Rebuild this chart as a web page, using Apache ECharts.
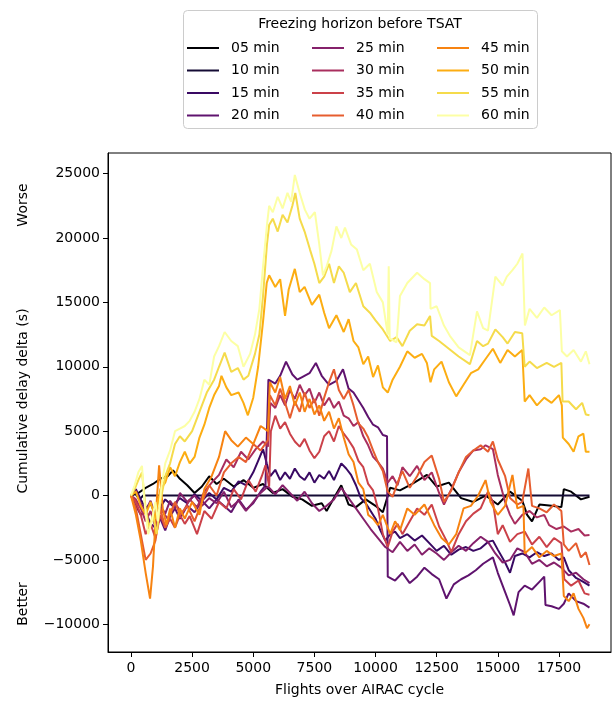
<!DOCTYPE html>
<html><head><meta charset="utf-8">
<script src="https://cdn.jsdelivr.net/npm/echarts@6/dist/echarts.min.js"></script>
<style>html,body{margin:0;padding:0;background:#fff}#c{width:612px;height:702px}</style>
</head><body><div id="c"></div>
<script>
const seriesNames = ['05 min','10 min','15 min','20 min','25 min','30 min','35 min','40 min','45 min','50 min','55 min','60 min'];
const xTicks = [0,2500,5000,7500,10000,12500,15000,17500];
const yTicks = [-10000,-5000,0,5000,10000,15000,20000,25000];

const min05 = [[0,0],[300,200],[600,600],[900,900],[1200,1300],[1500,1500],[1720,1950],[2000,1300],[2300,800],[2600,200],[2900,700],[3200,1500],[3500,900],[3800,1300],[4200,700],[4600,1200],[5000,600],[5400,900],[5800,200],[6200,500],[6600,-100],[7000,-300],[7400,-800],[7800,-600],[8000,-1200],[8300,-200],[8600,800],[8900,-700],[9200,-900],[9600,-300],[10000,-800],[10300,-1300],[10600,600],[11000,400],[11500,900],[12100,1600],[12500,700],[13000,1000],[13500,-200],[14000,-500],[14500,0],[15000,-700],[15500,300],[16000,-400],[16200,-1500],[16400,-2000],[16700,-700],[17200,-800],[17600,-900],[17700,500],[18000,300],[18400,-300],[18750,-100]];
const min10 = [[0,0],[150,200],[350,-300],[500,0],[18750,0]];
const min15 = [[0,0],[200,500],[400,-300],[600,-1000],[800,-600],[1000,-1500],[1200,-900],[1400,-300],[1700,-800],[2000,-200],[2300,-600],[2600,100],[2900,-400],[3200,200],[3500,-300],[3800,600],[4100,300],[4400,1100],[4700,800],[5000,1800],[5200,2700],[5400,3600],[5550,2500],[5700,1500],[5900,2000],[6100,1200],[6300,1800],[6500,1300],[6700,2100],[6900,1500],[7100,1200],[7300,1800],[7500,1000],[7700,1600],[7900,1300],[8100,1900],[8300,1200],[8600,2500],[8800,2100],[9000,1600],[9200,800],[9400,-200],[9600,-600],[9800,-1200],[10000,-1800],[10200,-2700],[10400,-3500],[10600,-3000],[10800,-2800],[11000,-3300],[11300,-3000],[11600,-3500],[11900,-3100],[12200,-3700],[12500,-4300],[12800,-3900],[13100,-4600],[13400,-4200],[13700,-4000],[14000,-4300],[14300,-4100],[14600,-3600],[14800,-3500],[15000,-4200],[15300,-5200],[15500,-6000],[15700,-4700],[16000,-4500],[16300,-4800],[16600,-4400],[16900,-4700],[17200,-4500],[17500,-5000],[17700,-4800],[17900,-5800],[18200,-6400],[18500,-6700],[18750,-7000]];
const min20 = [[0,0],[200,-800],[400,-1500],[600,-1200],[800,-2200],[1000,-2500],[1200,-1800],[1400,-2700],[1600,-1600],[1800,-1000],[2000,-1800],[2300,-800],[2600,-1300],[2900,-400],[3200,-1000],[3500,-300],[3800,-800],[4100,-1300],[4400,-300],[4700,-1100],[5000,-600],[5300,300],[5500,800],[5620,9000],[5900,8700],[6100,9300],[6340,10400],[6600,9400],[6800,9000],[7000,9200],[7300,9500],[7560,10300],[7800,9300],[8100,8600],[8400,8900],[8670,9800],[8900,8300],[9100,8000],[9300,7400],[9500,6800],[9700,6100],[9900,5500],[10100,5300],[10300,4700],[10470,4600],[10500,-6300],[10800,-6600],[11100,-6000],[11400,-6800],[11700,-6300],[12000,-5600],[12300,-6100],[12600,-6500],[12900,-8000],[13200,-6900],[13500,-6500],[13800,-6200],[14100,-5800],[14400,-5300],[14800,-4800],[15000,-6000],[15300,-7500],[15500,-8500],[15650,-9300],[15850,-7500],[16100,-7000],[16400,-7300],[16700,-6700],[16900,-6300],[16950,-8500],[17200,-8600],[17500,-8800],[17700,-8400],[17900,-7600],[18200,-8200],[18500,-8400],[18750,-8700]];
const min25 = [[0,0],[200,400],[400,-600],[600,-1200],[800,-400],[1000,-1600],[1200,-800],[1400,-1400],[1600,-400],[1800,-1000],[2000,200],[2300,-500],[2600,0],[2900,-800],[3200,-200],[3500,-600],[3800,300],[4100,-900],[4400,-400],[4700,-1200],[5000,-500],[5300,200],[5600,700],[5900,100],[6200,800],[6500,200],[6800,-400],[7100,300],[7400,-600],[7700,-1200],[8000,-800],[8300,-300],[8600,600],[8900,-200],[9200,-1000],[9500,-1800],[9800,-2600],[10100,-3300],[10400,-4000],[10700,-4400],[11000,-3600],[11300,-4300],[11600,-3800],[11900,-4600],[12200,-4100],[12500,-4500],[12800,-5000],[13100,-4400],[13400,-3900],[13700,-4300],[14000,-3700],[14300,-3200],[14600,-3600],[14900,-4500],[15200,-5200],[15500,-5000],[15800,-4100],[16100,-4400],[16400,-5300],[16700,-5000],[17000,-5500],[17300,-5200],[17600,-5600],[17900,-6200],[18200,-6000],[18500,-6500],[18750,-6800]];
const min30 = [[0,0],[200,-300],[400,-1000],[600,-2000],[800,-1200],[1000,-2500],[1200,-1000],[1500,-1800],[1800,-600],[2100,-1400],[2400,-300],[2700,-900],[3000,300],[3300,1000],[3600,1600],[3900,2800],[4200,2200],[4500,3400],[4800,2800],[5100,3600],[5400,4200],[5600,3800],[5700,7200],[5900,6800],[6100,7800],[6300,7000],[6500,8200],[6700,7500],[6900,8600],[7100,7800],[7300,8300],[7500,7200],[7700,8000],[7900,7000],[8100,7600],[8300,6800],[8500,7300],[8700,6200],[8900,6000],[9100,5400],[9300,5700],[9500,4600],[9700,3900],[9900,3000],[10100,2600],[10300,2100],[10500,1000],[10700,1500],[10900,800],[11100,2200],[11400,1500],[11700,2300],[12000,1200],[12300,1800],[12600,200],[12800,-700],[13100,500],[13400,1800],[13700,2800],[14000,3500],[14300,3600],[14500,3900],[14800,3600],[15000,1600],[15300,-500],[15500,-1500],[15700,-2200],[16000,-1500],[16300,-1200],[16600,-1700],[16900,-1500],[17100,-2300],[17400,-2600],[17700,-2400],[18000,-2800],[18300,-2600],[18550,-3100],[18750,-3070]];
const min35 = [[0,0],[200,-500],[400,-1500],[600,-3000],[800,-2200],[1000,-3300],[1200,-1500],[1400,-2500],[1600,-1800],[1800,-2500],[2000,-1500],[2200,-2200],[2400,-1600],[2700,-3000],[3000,-1200],[3300,-1800],[3600,-500],[3900,-1000],[4200,500],[4500,-300],[4800,1200],[5100,300],[5350,1500],[5500,2350],[5650,700],[5720,5000],[5900,6200],[6100,5200],[6300,5700],[6500,4800],[6700,4200],[6900,3800],[7100,4400],[7300,3500],[7500,2900],[7700,3400],[7900,4600],[8100,5000],[8300,4200],[8500,5400],[8700,4800],[8900,4300],[9100,3700],[9300,2700],[9500,2200],[9700,900],[9900,400],[10100,-1000],[10300,-3000],[10500,-4000],[10700,-2800],[10900,-2200],[11100,-3000],[11400,-2000],[11700,-1000],[12000,-1500],[12300,-700],[12600,-2400],[12900,-3500],[13100,-4400],[13400,-3000],[13700,-2000],[14000,-1400],[14300,-1000],[14600,300],[14800,-500],[15000,-3000],[15200,-2300],[15500,-3600],[15800,-3000],[16100,-2800],[16400,-3800],[16700,-3200],[17000,-4000],[17300,-3300],[17600,-3700],[17720,-6500],[18000,-7000],[18300,-6600],[18550,-7600],[18750,-7700]];
const min40 = [[0,0],[200,-1000],[400,-3000],[600,-5000],[800,-4500],[1000,-3500],[1200,-1000],[1400,-2500],[1600,-1500],[1800,-500],[2000,-1500],[2300,-800],[2600,-2000],[2900,-500],[3200,800],[3500,0],[3800,1800],[4100,2500],[4400,3000],[4700,2600],[5000,4000],[5300,3500],[5600,4300],[5680,7800],[5900,7000],[6100,8300],[6300,7200],[6500,6000],[6700,7300],[6900,6500],[7100,8000],[7300,6800],[7500,7500],[7700,6200],[7900,7600],[8100,8800],[8300,9800],[8500,8200],[8700,7500],[8900,8200],[9100,7000],[9300,5600],[9500,5200],[9700,4500],[9900,3500],[10100,2600],[10300,1900],[10500,300],[10700,-100],[10900,1000],[11100,1900],[11400,600],[11700,1500],[12000,2600],[12300,3100],[12600,1300],[12800,-500],[13100,400],[13400,1800],[13700,3000],[14000,3500],[14300,3900],[14600,3400],[14800,4200],[15000,2800],[15300,1500],[15500,-200],[15800,-700],[16000,-500],[16250,2100],[16400,-800],[16700,-1000],[17000,-1300],[17300,-700],[17600,-1200],[17700,-3800],[17900,-4300],[18200,-3700],[18400,-4800],[18600,-4400],[18750,-5400]];
const min45 = [[0,0],[200,-1500],[400,-3500],[600,-6000],[780,-8000],[900,-5500],[1000,-2000],[1150,2350],[1300,-1000],[1450,-2300],[1600,-1000],[1800,-2500],[2000,-1000],[2200,-1800],[2500,-500],[2800,-1500],[3000,500],[3300,1500],[3600,3000],[3850,5000],[4100,4300],[4370,3800],[4700,4500],[5000,4000],[5300,5400],[5600,5000],[5680,8800],[5900,8000],[6100,9200],[6300,7500],[6500,8500],[6700,7000],[6900,8000],[7100,6500],[7300,7500],[7500,6300],[7700,7000],[7900,5800],[8100,6500],[8300,5200],[8500,6000],[8700,4500],[8900,3200],[9100,2600],[9300,1000],[9500,500],[9700,-1500],[9900,-1800],[10100,-2300],[10300,-1500],[10600,-3000],[10800,-2000],[11000,-2700],[11300,-1000],[11600,-1500],[12000,-700],[12400,-2300],[12700,-3300],[13000,-3800],[13300,-3000],[13600,-1000],[13900,-800],[14200,0],[14500,1200],[14700,-500],[15000,-1500],[15300,-800],[15600,1600],[15800,-1000],[16050,-800],[16100,-4500],[16400,-4000],[16700,-4800],[17000,-4300],[17300,-4700],[17600,-4500],[17700,-7800],[17900,-8200],[18100,-7600],[18300,-8800],[18500,-9500],[18650,-10300],[18750,-10000]];
const min50 = [[0,0],[200,300],[400,-800],[600,-1500],[800,-500],[1000,-1800],[1200,500],[1400,1000],[1600,2200],[1800,1500],[2000,2600],[2200,3400],[2400,2500],[2600,3000],[2800,4500],[3000,5500],[3200,6800],[3400,7800],[3600,8500],[3700,9300],[3900,8400],[4100,7800],[4400,8000],[4600,7200],[4780,6230],[5000,7600],[5200,10000],[5400,13500],[5550,16500],[5650,17100],[5900,16200],[6100,16800],[6300,13950],[6450,16000],[6700,17600],[6900,15800],[7100,16200],[7400,14800],[7700,15600],[7900,14200],[8100,13000],[8400,14000],[8700,12700],[8900,13700],[9100,12000],[9300,11500],[9500,10200],[9700,10800],[9900,9200],[10100,10100],[10300,8400],[10500,8000],[10700,9000],[11000,10000],[11300,11200],[11600,10700],[11900,11000],[12100,10300],[12250,8800],[12400,9800],[12700,10400],[13000,8800],[13300,7700],[13600,8600],[13900,9500],[14200,9800],[14500,10600],[14800,11400],[15100,10300],[15400,11300],[15700,10800],[16000,11300],[16100,7300],[16300,7800],[16600,7000],[16900,7600],[17200,7200],[17500,7800],[17620,7000],[17660,4500],[17900,4000],[18100,3400],[18300,4600],[18500,4800],[18600,3400],[18750,3400]];
const min55 = [[0,0],[150,500],[300,1200],[450,1800],[600,-1000],[750,-2500],[900,-1500],[1050,-3000],[1200,-500],[1400,1500],[1600,2500],[1800,4000],[2000,4600],[2200,4200],[2500,5000],[2800,6500],[3100,8000],[3400,9000],[3600,10000],[3830,11100],[4100,9600],[4370,9900],[4600,9000],[4800,9300],[5070,11000],[5250,12500],[5400,15500],[5560,19500],[5650,21000],[5800,21500],[6000,20500],[6200,21800],[6400,21200],[6600,22500],[6720,23500],[6900,21500],[7100,20500],[7320,19100],[7500,18000],[7700,16500],[7900,17000],[8100,18000],[8300,16500],[8500,17800],[8700,17300],[8950,15800],[9200,16500],[9500,14700],[9770,14200],[10000,13600],[10300,12900],[10600,12000],[10860,12300],[11100,11600],[11400,12800],[11700,13300],[12000,13200],[12230,13950],[12300,12400],[12600,12000],[13000,11400],[13400,10800],[13860,10200],[14150,12000],[14400,11600],[14600,11800],[14900,12900],[15200,12300],[15400,11800],[15700,12700],[16000,12600],[16100,10000],[16300,10400],[16600,9900],[17000,10300],[17300,10000],[17600,10300],[17650,7300],[17900,7300],[18200,6700],[18450,7200],[18600,6300],[18750,6230]];
const min60 = [[0,0],[150,800],[300,1800],[450,2300],[550,-500],[700,-3000],[850,-2000],[1000,-500],[1100,-2000],[1250,800],[1400,2500],[1600,3500],[1800,5000],[2000,5200],[2200,5400],[2400,5800],[2600,6500],[2800,7500],[3000,9000],[3200,8600],[3400,10800],[3600,11600],[3830,12700],[4100,12000],[4370,11600],[4600,10000],[4870,11000],[5070,12500],[5250,14500],[5400,17800],[5560,21000],[5650,22500],[5800,22000],[6000,23200],[6200,22300],[6400,23500],[6550,22800],[6700,24900],[6900,23500],[7110,22200],[7300,21500],[7520,22000],[7700,19500],[7850,17100],[8000,17800],[8200,19000],[8400,20900],[8600,20000],[8750,20800],[9000,19500],[9240,19100],[9500,17500],[9770,18000],[10050,15800],[10300,15000],[10500,12500],[10540,17800],[10580,12200],[10860,11900],[11000,15500],[11300,16500],[11700,17300],[12000,16800],[12230,16500],[12250,14500],[12500,14700],[12800,13200],[13040,12400],[13400,11500],[13860,10900],[14150,14300],[14400,13000],[14600,12800],[14900,17000],[15200,16300],[15370,17000],[15600,17500],[15800,18000],[16010,18800],[16110,13200],[16300,14500],[16600,13800],[16900,14600],[17200,14000],[17540,14400],[17620,11200],[17830,10800],[18100,11300],[18400,10400],[18600,11200],[18750,10200]];

const seriesData = [min05,min10,min15,min20,min25,min30,min35,min40,min45,min50,min55,min60];
const colors = ['#000004','#140b34','#390963','#5f136e','#85216b','#a92e5e','#cb4149','#e65d2f','#f78311','#fcad12','#f5db4b','#fcffa4'];

const FONT = 'DejaVu Sans';
const chart = echarts.init(document.getElementById('c'), null, {renderer:'canvas'});
const minus = v => String(v).replace('-', '\u2212');

function legendCol(names, left) {
  return {
    show: true, orient: 'vertical', left: left, top: 40,
    data: names, icon: 'rect', itemWidth: 32, itemHeight: 2, itemGap: 6.5,
    textStyle: {fontFamily: FONT, fontSize: 14, color: '#000', lineHeight: 16, padding: [0,0,0,7]},
    selectedMode: false, padding: 0
  };
}

chart.setOption({
  animation: false,
  backgroundColor: '#fff',
  color: colors,
  grid: {left: 108, right: 1, top: 153, bottom: 47, show: true, borderColor: '#000', borderWidth: 1, containLabel: false},
  legend: [
    legendCol(seriesNames.slice(0,4), 187),
    legendCol(seriesNames.slice(4,8), 312),
    legendCol(seriesNames.slice(8,12), 437)
  ],
  graphic: [
    {type: 'rect', z: -1, shape: {x: 183.5, y: 10.5, width: 354, height: 118, r: 4}, style: {fill: '#fff', stroke: '#cccccc', lineWidth: 1}},
    {type: 'text', x: 360, y: 24, style: {text: 'Freezing horizon before TSAT', font: '14px "DejaVu Sans"', fill: '#000', align: 'center', verticalAlign: 'middle'}},
    {type: 'text', x: 23, y: 401, rotation: Math.PI/2, style: {text: 'Cumulative delay delta (s)', font: '14px "DejaVu Sans"', fill: '#000', align: 'center', verticalAlign: 'middle'}},
    {type: 'text', x: 23, y: 205, rotation: Math.PI/2, style: {text: 'Worse', font: '14px "DejaVu Sans"', fill: '#000', align: 'center', verticalAlign: 'middle'}},
    {type: 'text', x: 23, y: 604, rotation: Math.PI/2, style: {text: 'Better', font: '14px "DejaVu Sans"', fill: '#000', align: 'center', verticalAlign: 'middle'}}
  ],
  xAxis: {
    type: 'value', min: -940, max: 19630,
    name: 'Flights over AIRAC cycle', nameLocation: 'middle', nameGap: 31,
    nameTextStyle: {fontFamily: FONT, fontSize: 14, color: '#000'},
    axisLine: {show: true, onZero: false, lineStyle: {color: '#000', width: 1}},
    axisTick: {show: true, length: 5, lineStyle: {color: '#000'}, customValues: xTicks},
    axisLabel: {fontFamily: FONT, fontSize: 14, color: '#000', margin: 9, customValues: xTicks, formatter: minus},
    splitLine: {show: false}
  },
  yAxis: {
    type: 'value', min: -12150, max: 26600,
    axisLine: {show: true, onZero: false, lineStyle: {color: '#000', width: 1}},
    axisTick: {show: true, length: 5, lineStyle: {color: '#000'}, customValues: yTicks},
    axisLabel: {fontFamily: FONT, fontSize: 14, color: '#000', margin: 8, customValues: yTicks, formatter: minus},
    splitLine: {show: false}
  },
  series: seriesNames.map((n, i) => ({
    name: n, type: 'line', data: seriesData[i], showSymbol: false, symbol: 'none',
    lineStyle: {width: 2, color: colors[i]}, itemStyle: {color: colors[i]},
    emphasis: {disabled: true}, clip: true
  }))
});
</script></body></html>
